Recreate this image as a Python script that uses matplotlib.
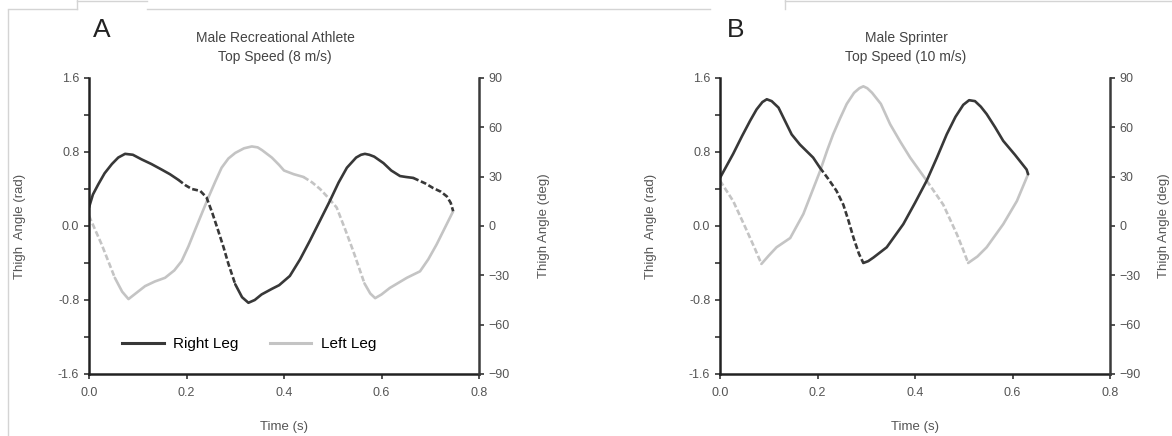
import matplotlib
matplotlib.use("Agg")
import matplotlib.pyplot as plt
from matplotlib.lines import Line2D
import numpy as np

plt.rcParams['font.family'] = ['Liberation Sans', 'DejaVu Sans']

# ---- data: time (s), thigh angle (rad) ----
# panel A: male recreational athlete, 8 m/s
a_right_t = [0.000, 0.008, 0.019, 0.032, 0.047, 0.060, 0.074, 0.090, 0.108, 0.128,
             0.149, 0.166, 0.183, 0.198, 0.211, 0.228, 0.241, 0.253, 0.265, 0.276,
             0.286, 0.300, 0.314, 0.327, 0.340, 0.354, 0.375, 0.390, 0.412, 0.433,
             0.453, 0.474, 0.494, 0.512, 0.529, 0.548, 0.558, 0.566, 0.575, 0.585,
             0.604, 0.620, 0.638, 0.650, 0.665, 0.690, 0.706, 0.722, 0.734, 0.742,
             0.747]
a_right_rad = [0.20, 0.34, 0.45, 0.57, 0.67, 0.74, 0.78, 0.77, 0.72, 0.67,
               0.61, 0.56, 0.50, 0.44, 0.40, 0.38, 0.31, 0.14, -0.05, -0.23,
               -0.41, -0.63, -0.77, -0.83, -0.80, -0.74, -0.68, -0.64, -0.54, -0.36,
               -0.16, 0.06, 0.27, 0.47, 0.63, 0.74, 0.77, 0.78, 0.77, 0.75,
               0.68, 0.60, 0.54, 0.53, 0.52, 0.46, 0.41, 0.37, 0.32, 0.25,
               0.16]
a_right_dash = [(0.183, 0.300), (0.665, 0.747)]

a_left_t = [0.000, 0.026, 0.053, 0.068, 0.081, 0.098, 0.115, 0.135, 0.156, 0.175,
            0.190, 0.204, 0.217, 0.231, 0.245, 0.259, 0.272, 0.286, 0.300, 0.318,
            0.334, 0.346, 0.355, 0.375, 0.390, 0.400, 0.420, 0.440, 0.458, 0.474,
            0.490, 0.508, 0.525, 0.542, 0.565, 0.577, 0.587, 0.600, 0.617, 0.652,
            0.679, 0.696, 0.713, 0.730, 0.747]
a_left_rad = [0.11, -0.20, -0.56, -0.71, -0.79, -0.72, -0.65, -0.60, -0.56, -0.48,
              -0.38, -0.22, -0.05, 0.13, 0.31, 0.48, 0.63, 0.73, 0.79, 0.84,
              0.86, 0.85, 0.82, 0.74, 0.66, 0.60, 0.56, 0.53, 0.47, 0.40,
              0.31, 0.20, -0.03, -0.27, -0.62, -0.73, -0.78, -0.74, -0.67, -0.56,
              -0.49, -0.36, -0.20, -0.02, 0.16]
a_left_dash = [(0.000, 0.053), (0.440, 0.565)]

# panel B: male sprinter, 10 m/s
b_right_t = [0.000, 0.027, 0.045, 0.062, 0.075, 0.087, 0.096, 0.106, 0.120, 0.133,
             0.147, 0.164, 0.191, 0.205, 0.222, 0.239, 0.253, 0.264, 0.274, 0.285,
             0.294, 0.304, 0.315, 0.342, 0.376, 0.400, 0.424, 0.445, 0.465, 0.483,
             0.499, 0.511, 0.523, 0.535, 0.547, 0.564, 0.581, 0.605, 0.629, 0.632]
b_right_rad = [0.52, 0.78, 0.97, 1.14, 1.26, 1.34, 1.37, 1.35, 1.28, 1.14,
               0.99, 0.88, 0.74, 0.63, 0.51, 0.38, 0.23, 0.05, -0.13, -0.30,
               -0.40, -0.38, -0.34, -0.23, 0.02, 0.25, 0.49, 0.74, 0.99, 1.18,
               1.31, 1.36, 1.35, 1.29, 1.21, 1.07, 0.92, 0.77, 0.61, 0.56]
b_right_dash = [(0.205, 0.294)]

b_left_t = [0.000, 0.027, 0.055, 0.072, 0.085, 0.100, 0.116, 0.144, 0.171, 0.188,
            0.205, 0.220, 0.232, 0.246, 0.260, 0.275, 0.286, 0.294, 0.302, 0.312,
            0.330, 0.349, 0.370, 0.390, 0.424, 0.441, 0.458, 0.486, 0.499, 0.509,
            0.528, 0.547, 0.581, 0.609, 0.632]
b_left_rad = [0.49, 0.27, -0.05, -0.25, -0.41, -0.32, -0.23, -0.13, 0.13, 0.36,
              0.59, 0.82, 0.99, 1.16, 1.32, 1.44, 1.49, 1.51, 1.49, 1.44,
              1.32, 1.10, 0.91, 0.74, 0.49, 0.36, 0.23, -0.09, -0.26, -0.40,
              -0.33, -0.23, 0.02, 0.27, 0.56]
b_left_dash = [(0.000, 0.085), (0.424, 0.509)]

x_ticks = [0.0, 0.2, 0.4, 0.6, 0.8]
rad_ticks = [-1.6, -0.8, 0.0, 0.8, 1.6]
rad_minor = [-1.2, -0.4, 0.4, 1.2]
deg_ticks = [-90, -60, -30, 0, 30, 60, 90]

DARK = '#383838'
LIGHT = '#c4c4c4'
TXT = '#555555'
W, H = 1172, 436


def draw_leg(ax, t, y, dash, color):
    t = np.array(t)
    y = np.array(y)
    mids = (t[:-1] + t[1:]) / 2
    dashed = np.array([any(a <= m <= b for a, b in dash) for m in mids])
    start = 0
    for i in range(1, len(mids) + 1):
        if i == len(mids) or dashed[i] != dashed[start]:
            ls = (0, (2.2, 1.0)) if dashed[start] else '-'
            ax.plot(t[start:i + 1], y[start:i + 1], color=color, lw=1.9,
                    ls=ls, solid_capstyle='round', solid_joinstyle='round',
                    dash_capstyle='butt')
            start = i


def setup(ax, title, right_label_x):
    ax.set_xlim(0, 0.8)
    ax.set_ylim(-1.6, 1.6)
    ax.set_xticks(x_ticks)
    ax.set_xticklabels(['%.1f' % v for v in x_ticks])
    ax.set_yticks(rad_ticks)
    ax.set_yticklabels(['%.1f' % v for v in rad_ticks])
    ax.set_yticks(rad_minor, minor=True)
    ax.tick_params(axis='both', which='both', direction='out', length=3.5,
                   width=1.2, colors='#333333', labelcolor=TXT, labelsize=9)
    ax.tick_params(axis='x', pad=6)
    for s in ['top', 'right']:
        ax.spines[s].set_visible(False)
    for s in ['left', 'bottom']:
        ax.spines[s].set_linewidth(1.8)
        ax.spines[s].set_color('#222222')
    ax.set_ylabel('Thigh  Angle (rad)', fontsize=9.5, color=TXT)
    ax.yaxis.set_label_coords(-0.1615, 0.5)
    ax.set_xlabel('Time (s)', fontsize=9.5, color=TXT)
    ax.xaxis.set_label_coords(0.5, -0.16)

    ax2 = ax.twinx()
    ax2.set_ylim(-90, 90)
    ax2.set_yticks(deg_ticks)
    ax2.tick_params(axis='y', direction='out', length=3.5, width=1.2,
                    colors='#333333', labelcolor=TXT, labelsize=9)
    for s in ['top', 'left', 'bottom']:
        ax2.spines[s].set_visible(False)
    ax2.spines['right'].set_linewidth(1.8)
    ax2.spines['right'].set_color('#3a3a3a')
    ax2.set_ylabel('Thigh Angle (deg)', fontsize=9.5, color=TXT)
    ax2.yaxis.set_label_coords(right_label_x, 0.5)

    ax.text(0.477, 1.103, title, transform=ax.transAxes, ha='center',
            va='center', fontsize=10, color='#444444', linespacing=1.45)
    return ax2


fig = plt.figure(figsize=(W / 100, H / 100), dpi=100)
axA = fig.add_axes([89 / W, (H - 374) / H, 390 / W, 296 / H])
axB = fig.add_axes([720 / W, (H - 374) / H, 390 / W, 296 / H])

setup(axA, 'Male Recreational Athlete\nTop Speed (8 m/s)', 1.152)
setup(axB, 'Male Sprinter\nTop Speed (10 m/s)', 1.124)

draw_leg(axA, a_left_t, a_left_rad, a_left_dash, LIGHT)
draw_leg(axA, a_right_t, a_right_rad, a_right_dash, DARK)
draw_leg(axB, b_left_t, b_left_rad, b_left_dash, LIGHT)
draw_leg(axB, b_right_t, b_right_rad, b_right_dash, DARK)

legend_handles = [Line2D([], [], color=DARK, lw=2.2),
                  Line2D([], [], color=LIGHT, lw=2.2)]
axA.legend(legend_handles, ['Right Leg', 'Left Leg'], loc='center left',
           bbox_to_anchor=(0.05, 0.10), ncol=2, frameon=False,
           handlelength=2.7, columnspacing=2.1, handletextpad=0.6,
           fontsize=11)

fig.text(102 / W, 1 - 30 / H, 'A', fontsize=19, ha='center', va='center',
         color='#222222')
fig.text(736 / W, 1 - 30 / H, 'B', fontsize=19, ha='center', va='center',
         color='#222222')

# faint frame lines from the page the chart sits on
frame = '#d4d4d4'
for xs, ys in [([8, 8], [10, 436]), ([8, 77], [9, 9]), ([77, 77], [9, 0]),
               ([77, 147], [1, 1]), ([147, 710], [9, 9]), ([785, 785], [9, 0]),
               ([785, 1172], [1, 1])]:
    fig.add_artist(Line2D([x / W for x in xs], [1 - y / H for y in ys],
                          color=frame, lw=1.0, transform=fig.transFigure))

fig.savefig('out.png', dpi=100, facecolor='white')
